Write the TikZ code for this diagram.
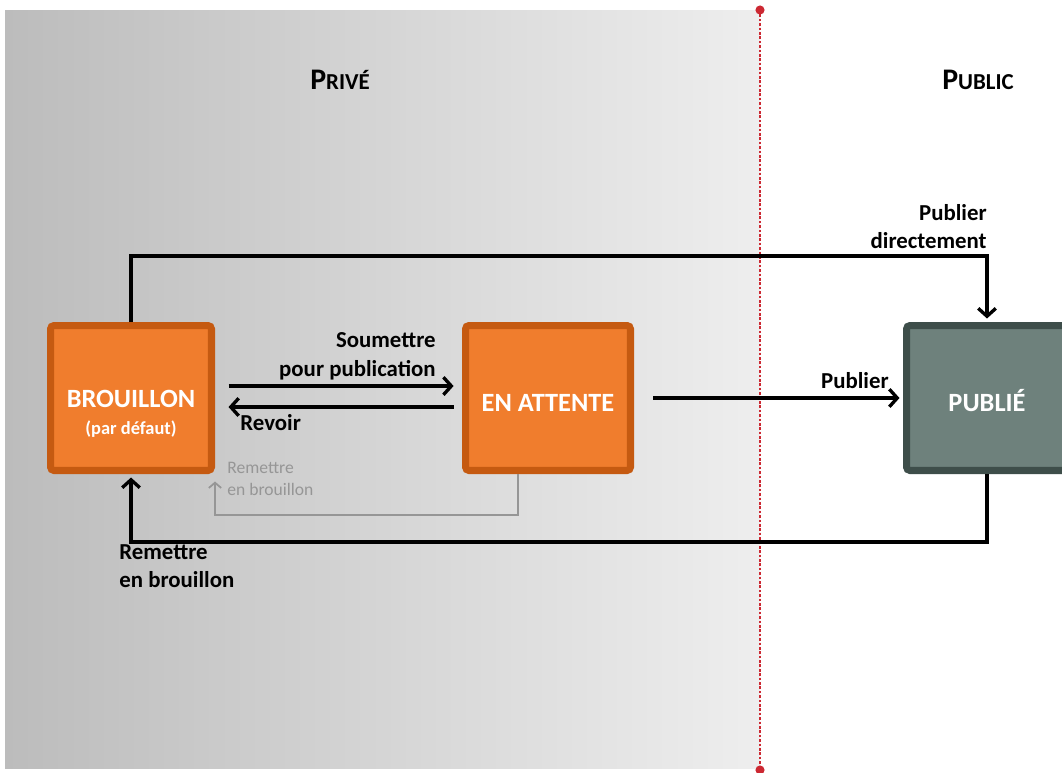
\documentclass[tikz,border=0pt]{standalone}
\usepackage{fontspec}
\setmainfont{Carlito}
\usetikzlibrary{positioning,arrows.meta}
\definecolor{orangefill}{RGB}{240,125,45}
\definecolor{orangeline}{RGB}{197,90,17}
\definecolor{vertfill}{RGB}{110,129,124}
\definecolor{vertline}{RGB}{62,78,74}
\definecolor{grisclair}{RGB}{238,238,238}
\definecolor{grisfonce}{RGB}{188,188,188}
\definecolor{grisfleche}{RGB}{150,150,150}
\definecolor{rouge}{RGB}{204,40,50}

\begin{document}
\begin{tikzpicture}[x=0.02cm,y=-0.02cm]
\tikzstyle{etat}=[rectangle,rounded corners=2pt,line width=4pt,minimum height=2.9cm,text=white,font=\fontsize{15}{17}\selectfont\bfseries,align=center]
\tikzstyle{fleche}=[->,>={Straight Barb[length=4.5pt,width=10pt]},line width=1.9pt]
\tikzstyle{libelle}=[font=\fontsize{13}{16}\selectfont\bfseries,inner sep=0pt]
\tikzstyle{titre}=[font=\bfseries,inner sep=0pt]
    \clip (0,0) rectangle (1062,772);
    \fill[white] (0,0) rectangle (1062,772);
    \shade[left color=grisfonce,right color=grisclair] (5,10) rectangle (760,768);
    % separation prive / public
    \coordinate (haut) at (760,10);
    \coordinate (bas) at (760,770);
    \draw[rouge,line width=0.9pt,dash pattern=on 1.5pt off 1pt] (haut) -- (bas);
    \fill[rouge] (haut) circle[radius=2.6pt];
    \fill[rouge] (bas) circle[radius=2.6pt];
    \node[titre] (prive) at (340,80) {{\fontsize{17}{17}\selectfont P}{\fontsize{13}{13}\selectfont RIVÉ}};
    \node[titre] (public) at (978,80) {{\fontsize{17}{17}\selectfont P}{\fontsize{13}{13}\selectfont UBLIC}};
    % etats
    \node[etat,fill=orangefill,draw=orangeline,minimum width=3.22cm] (brouillon) at (131,398) {{\fontsize{10.5}{12}\selectfont\phantom{(p)}}\\[3pt]BROUILLON\\[-2pt]{\fontsize{10.5}{12}\selectfont (par défaut)}};
    \node[etat,fill=orangefill,draw=orangeline,minimum width=3.3cm,text height=15pt,text depth=0pt] (attente) at (548,398) {EN ATTENTE};
    \node[etat,fill=vertfill,draw=vertline,minimum width=3.22cm,text height=15pt,text depth=0pt] (publie) at (987,398) {PUBLIÉ};
    % transitions
    \draw[fleche,shorten <=7.7pt,shorten >=4.8pt] ([yshift=0.24cm]brouillon.east) to ([yshift=0.24cm]attente.west);
    \draw[fleche,shorten <=4.8pt,shorten >=7.7pt] ([yshift=-0.18cm]attente.west) to ([yshift=-0.18cm]brouillon.east);
    \draw[fleche,shorten <=11pt,shorten >=2pt] (attente.east) to (publie.west);
    \draw[fleche,shorten >=2pt] (brouillon.north) -- ++(0,-66) -| (publie.north);
    \draw[fleche,shorten >=2pt] (publie.south) -- ++(0,68) -| (brouillon.south);
    \draw[->,>={Straight Barb[length=3pt,width=7pt]},line width=1pt,grisfleche] ([xshift=-0.6cm]attente.south) -- ++(0,41) -| ([yshift=-0.15cm]brouillon.south east);
    % libelles
    \node[libelle,anchor=south east,align=right] (lsoumettre) at (436,380) {Soumettre\\pour publication};
    \node[libelle,anchor=north west] (lrevoir) at (240,414) {Revoir};
    \node[libelle,anchor=south east] (lpublier) at (889,389) {Publier};
    \node[libelle,anchor=south east,align=right] (ldirect) at (987,249) {Publier\\directement};
    \node[libelle,anchor=north west,align=left] (lremettre) at (119,544) {Remettre\\en brouillon};
    \node[inner sep=0pt,anchor=north west,align=left,text=grisfleche,font=\fontsize{10}{12.5}\selectfont] (lremettregris) at (227,462) {Remettre\\en brouillon};
  \end{tikzpicture}
\end{document}
